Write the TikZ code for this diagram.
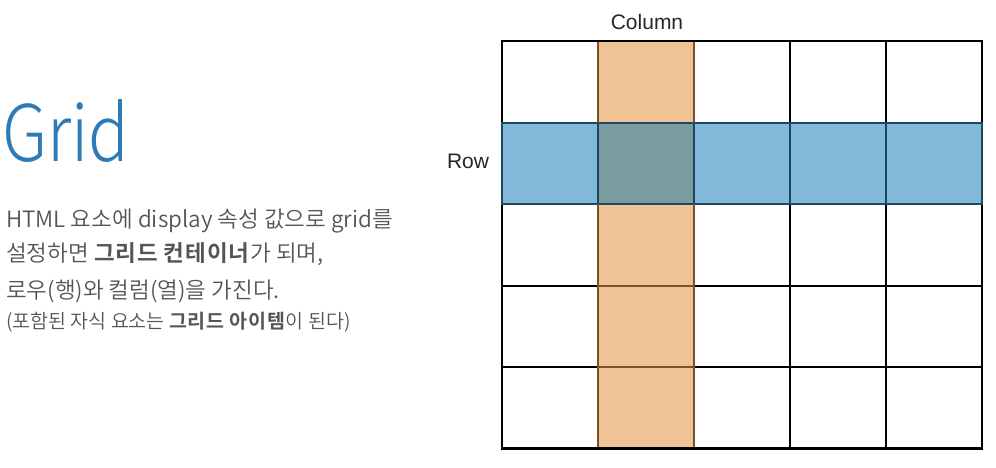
\documentclass[tikz,border=0pt]{standalone}
\usepackage{fontspec}
\setmainfont{Noto Sans CJK KR}[UprightFont={* DemiLight},BoldFont={* Bold},BoldFeatures={LetterSpace=4}]
\newfontfamily\thinfont{Noto Sans CJK KR Light}[FakeStretch=0.86]
\newfontfamily\arialfont{Liberation Sans}
\definecolor{titleblue}{HTML}{2C7AB6}
\definecolor{bodygray}{HTML}{555555}
\definecolor{rowblue}{HTML}{82B9D8}
\definecolor{colorange}{HTML}{F0C397}
\definecolor{overlapc}{HTML}{7A9CA1}
\definecolor{rowedge}{HTML}{1C4662}
\definecolor{coledge}{HTML}{7E5028}
\tikzset{
  bodytext/.style={anchor=base west, inner sep=0pt, text=bodygray, font=\fontsize{22.5}{27}\selectfont},
  smalltext/.style={anchor=base west, inner sep=0pt, text=bodygray, font=\fontsize{19.5}{24}\selectfont},
  gridline/.style={line width=2.8pt, draw=black},
  rowline/.style={line width=2.2pt, draw=rowedge},
  colline/.style={line width=2.2pt, draw=coledge},
  labeltext/.style={inner sep=0pt, text=black!85, font=\arialfont\fontsize{21}{24}\selectfont}
}
\begin{document}
\begin{tikzpicture}[x=1pt,y=-1pt]
\useasboundingbox (0,0) rectangle (996,467);
% title
\node[anchor=base west, inner sep=0pt, text=titleblue, font=\thinfont\fontsize{78}{80}\selectfont] (title) at (2,161.7) {Grid};
% body
\node[bodytext] (l1) at (6,227) {HTML 요소에 display 속성 값으로 grid를};
\node[bodytext] (l2) at (6,261) {설정하면 \textbf{그리드 컨테이너}가 되며,};
\node[bodytext] (l3) at (6,298) {로우(행)와 컬럼(열)을 가진다.};
\node[smalltext] (l4) at (6,328) {(포함된 자식 요소는 \textbf{그리드 아이템}이 된다)};
% fills
\fill[rowblue] (502,123) rectangle (982,204);
\fill[colorange] (598,41) rectangle (694,448);
\fill[overlapc] (598,123) rectangle (694,204);
% black grid
\foreach \x in {502,598,694,790,886,982} \draw[gridline] (\x,41) -- (\x,448.5);
\foreach \y in {41,123,204,286,367,448.5} \draw[gridline] (502,\y) -- (982,\y);
% row edges
\draw[rowline] (502,123) rectangle (982,204);
\foreach \x in {598,694,790,886} \draw[rowline] (\x,123) -- (\x,204);
% column edges
\draw[colline] (598,41) -- (598,123) (694,41) -- (694,123);
\draw[colline] (598,204) -- (598,448.5) (694,204) -- (694,448.5);
\foreach \y in {286,367} \draw[colline] (598,\y) -- (694,\y);
\draw[gridline, line cap=rect] (502,448.5) -- (982,448.5) (502,41) -- (982,41);
% labels
\node[labeltext] (collabel) at (647,22) {Column};
\node[labeltext] (rowlabel) at (468,161) {Row};
\end{tikzpicture}
\end{document}
